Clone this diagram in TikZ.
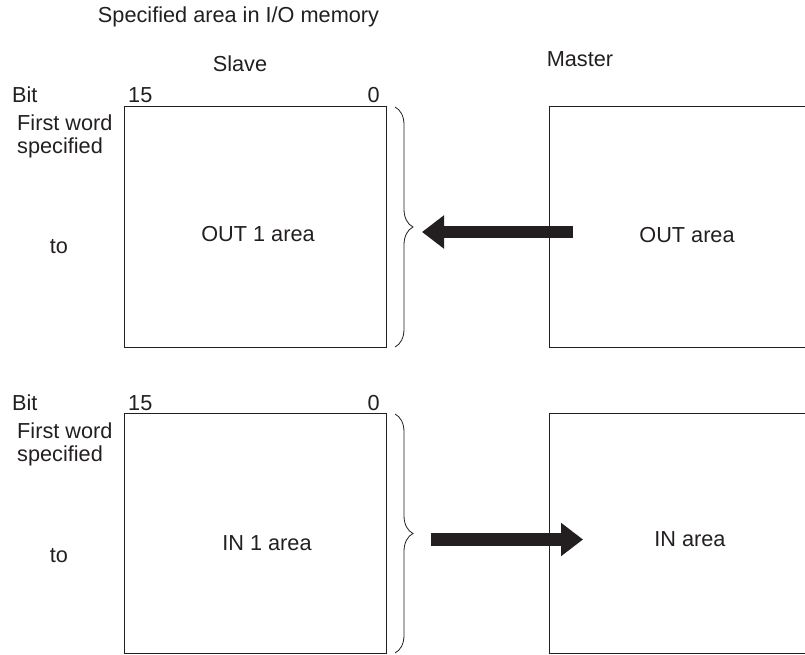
\documentclass[tikz,border=0pt]{standalone}
\usepackage{fontspec}
\setmainfont{Liberation Sans}
\usetikzlibrary{arrows.meta,positioning,decorations.pathreplacing}
\definecolor{inkdark}{HTML}{231F20}

\begin{document}
\begin{tikzpicture}[
    x=1pt,y=-1pt,
    lbl/.style={inner sep=0pt,font=\fontsize{21.7}{23}\selectfont,text=inkdark},
    area/.style={draw=inkdark,line width=1.1pt,inner sep=0pt,anchor=north west,
                 minimum height=241pt},
    brc/.style={draw=inkdark,line width=0.8pt,decorate,decoration={brace,amplitude=18pt}},
    bigarrow/.style={draw=inkdark,line width=12.5pt,-{Triangle[length=22pt,width=32pt]}},
  ]
  \useasboundingbox (0,0) rectangle (805,655);
  \clip (0,0) rectangle (805,655);

  \node[lbl,anchor=base] (title) at (238.5,23) {Specified area in I/O memory};
  \node[lbl,anchor=base] (slave) at (240,72) {Slave};
  \node[lbl,anchor=base] (master) at (580,67) {Master};

  % OUT side
  \node[lbl,anchor=base west] (bitout) at (12,103) {Bit};
  \node[lbl,anchor=base west] (msbout) at (128,103) {15};
  \node[lbl,anchor=base east] (lsbout) at (380,103) {0};
  \node[lbl,anchor=base west,align=left] (firstout) at (17,154) {First word\\specified};
  \node[lbl,anchor=base] (toout) at (59,253) {to};
  \node[area,minimum width=262pt] (out1) at (124,106) {};
  \node[area,minimum width=270pt] (outm) at (549,106) {};
  \node[lbl,anchor=base] (out1lbl) at (258,241) {OUT 1 area};
  \node[lbl,anchor=base] (outmlbl) at (687,242) {OUT area};
  \draw[brc] (395,107) -- (395,347);
  \coordinate (outtail) at (573,232);
  \coordinate (outhead) at (422,232);
  \draw[bigarrow] (outtail) -- (outhead);

  % IN side
  \node[lbl,anchor=base west] (bitin) at (12,410) {Bit};
  \node[lbl,anchor=base west] (msbin) at (128,410) {15};
  \node[lbl,anchor=base east] (lsbin) at (380,410) {0};
  \node[lbl,anchor=base west,align=left] (firstin) at (17,461) {First word\\specified};
  \node[lbl,anchor=base] (toin) at (59,562) {to};
  \node[area,minimum width=262pt,minimum height=240pt] (in1) at (124,413) {};
  \node[area,minimum width=270pt,minimum height=240pt] (inm) at (549,413) {};
  \node[lbl,anchor=base] (in1lbl) at (267,550) {IN 1 area};
  \node[lbl,anchor=base] (inmlbl) at (690,546) {IN area};
  \draw[brc] (395,414) -- (395,653);
  \coordinate (intail) at (431,539.5);
  \coordinate (inhead) at (583,539.5);
  \draw[bigarrow] (intail) -- (inhead);
\end{tikzpicture}
\end{document}
